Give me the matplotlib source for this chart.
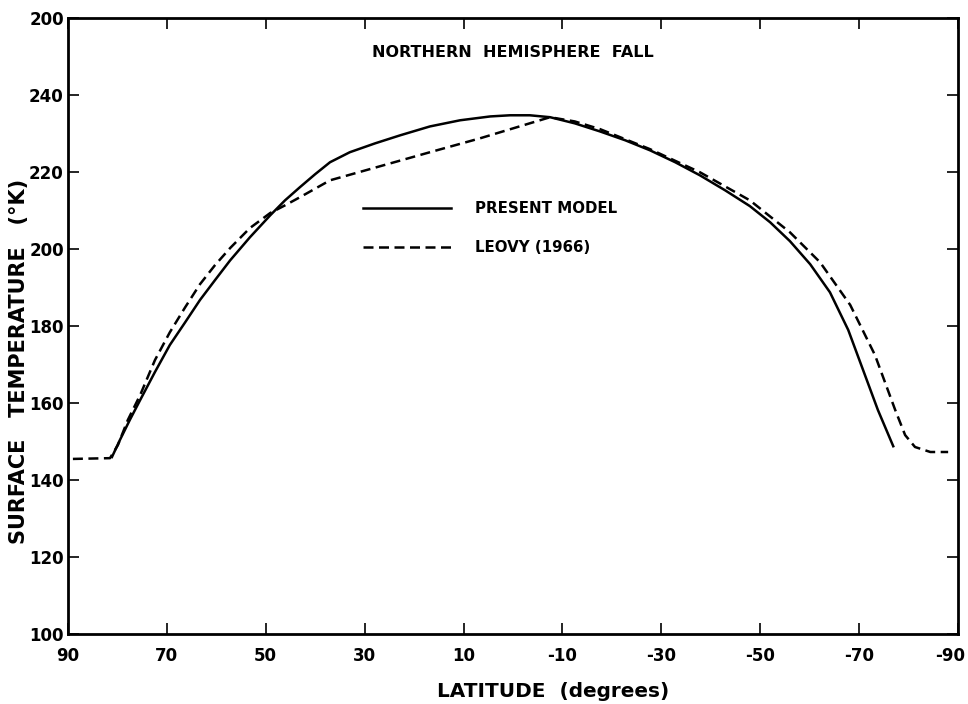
import numpy as np
import matplotlib.pyplot as plt
import matplotlib.transforms as mtransforms

# present model, surface temperature vs latitude
lat_model = [81.1, 79.5, 77.5, 75.4, 72.4, 69.4, 66.3, 63.3, 60.3, 57.2,
             53.2, 49.1, 46.1, 43.1, 40.0, 37.0, 33.0, 27.9, 22.8, 16.8,
             10.7, 4.6, 0.6, -3.4, -7.5, -12.5, -17.6, -22.7, -27.7, -32.8,
             -37.8, -42.9, -47.9, -52.0, -56.0, -60.1, -64.1, -67.8, -70.8,
             -73.8, -76.9]
t_model = [146.0, 150.4, 155.6, 160.8, 168.1, 175.1, 181.0, 186.8, 191.9, 197.1,
           203.1, 208.8, 212.7, 216.1, 219.5, 222.6, 225.2, 227.5, 229.6, 231.9,
           233.5, 234.5, 234.8, 234.8, 234.3, 232.7, 230.6, 228.3, 225.7, 222.6,
           219.2, 215.3, 211.2, 207.0, 202.1, 196.1, 188.8, 179.0, 168.6,
           158.2, 148.8]

# Leovy (1966)
lat_leovy = [89.0, 81.5, 79.9, 77.9, 75.4, 72.4, 69.4, 66.3, 63.3, 60.3,
             57.2, 53.2, 49.1, 46.1, 43.1, 37.0, 16.8, 6.7, -7.5, -12.5,
             -17.6, -27.7, -37.8, -47.9, -56.0, -62.1, -68.2, -73.2, -77.3,
             -79.3, -81.3, -84.4, -88.0]
t_leovy = [145.5, 145.7, 149.1, 155.6, 162.1, 171.2, 178.4, 184.9, 190.9, 195.8,
           200.3, 205.5, 209.4, 211.4, 213.5, 217.9, 225.2, 228.8, 234.3, 233.2,
           231.2, 226.0, 220.0, 212.7, 204.4, 196.6, 185.5, 172.5, 158.2,
           151.7, 148.6, 147.3, 147.3]

xticks = [90, 70, 50, 30, 10, -10, -30, -50, -70, -90]
yticks = [100, 120, 140, 160, 180, 200, 220, 240, 260]
ytick_labels = ['100', '120', '140', '160', '180', '200', '220', '240', '200']

plt.rcParams['font.family'] = ['DejaVu Sans']
fig = plt.figure(figsize=(9.68, 7.04), dpi=100)
ax = fig.add_axes([0.0702, 0.0994, 0.9195, 0.8746])

ax.plot(lat_model, t_model, color='black', lw=1.8, label='PRESENT MODEL')
ax.plot(lat_leovy, t_leovy, color='black', lw=1.8, dashes=(4.0, 2.2),
        label='LEOVY (1966)')

ax.set_xlim(90, -90)
ax.set_ylim(100, 260)
ax.set_xticks(xticks)
ax.set_xticklabels([str(v) for v in xticks], fontweight='bold', fontsize=12)
ax.set_yticks(yticks)
ax.set_yticklabels(ytick_labels, fontweight='bold', fontsize=12)
ax.tick_params(direction='in', length=8, width=1.2, top=True, right=True)
ax.tick_params(axis='x', pad=9)
ax.tick_params(axis='y', pad=3)
for s in ax.spines.values():
    s.set_linewidth(2)

# pull the last latitude label in so it stays on the page
last = ax.get_xticklabels()[-1]
last.set_transform(last.get_transform() +
                   mtransforms.ScaledTranslation(-8 / 100, 0, fig.dpi_scale_trans))

ax.set_xlabel('LATITUDE  (degrees)', fontsize=14.4, fontweight='bold')
ax.xaxis.set_label_coords(0.545, -0.078)
ax.set_ylabel('SURFACE   TEMPERATURE   (°K)', fontsize=15, fontweight='bold',
              va='center')
ax.yaxis.set_label_coords(-0.055, 0.443)

ax.text(0.5, 0.945, 'NORTHERN  HEMISPHERE  FALL', transform=ax.transAxes,
        ha='center', va='center', fontsize=11.5, fontweight='bold')

leg = ax.legend(loc='upper left', bbox_to_anchor=(0.316, 0.725), frameon=False,
                handlelength=5.9, handletextpad=1.6, labelspacing=1.6,
                prop={'weight': 'bold', 'size': 10.8})

fig.savefig('out.png', dpi=100)
